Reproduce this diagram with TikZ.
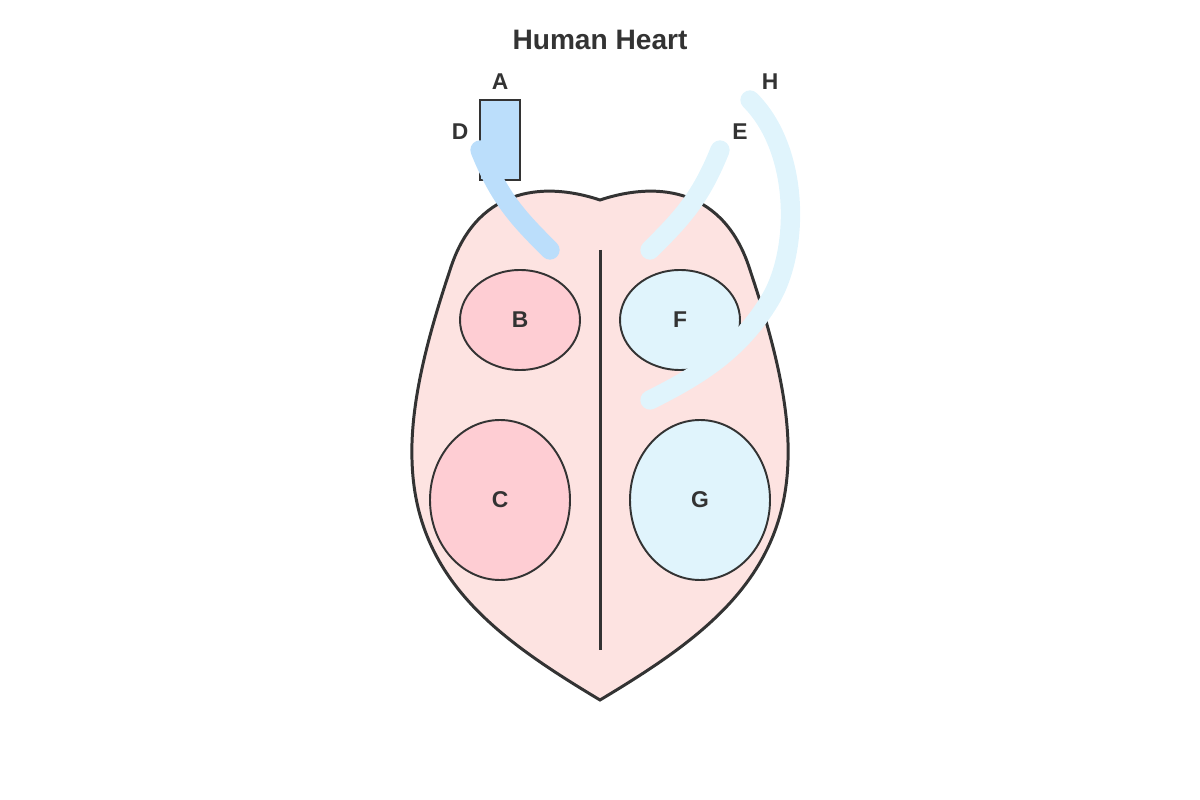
\documentclass[tikz,border=0pt]{standalone}
\usepackage{fontspec}
\setmainfont{Liberation Sans}
\usetikzlibrary{shapes.geometric}
\definecolor{heartfill}{HTML}{FDE3E1}
\definecolor{redch}{HTML}{FECDD3}
\definecolor{bluech}{HTML}{E0F4FC}
\definecolor{aorta}{HTML}{BBDEFB}
\definecolor{ink}{HTML}{333333}
\tikzset{
  chamber/.style={ellipse,draw=ink,line width=1.1pt,font=\bfseries\fontsize{13}{15}\selectfont,text=ink},
  lbl/.style={font=\bfseries\fontsize{13}{15}\selectfont,text=ink},
  vessel/.style={line width=11pt,line cap=round}
}
\begin{document}
\begin{tikzpicture}[x=0.02cm,y=-0.02cm]
  \useasboundingbox (0,0) rectangle (1200,800);
  \node[font=\bfseries\fontsize{16}{19}\selectfont,text=ink] (title) at (600,40) {Human Heart};
  % heart outline
  \draw[ink,line width=1.7pt,fill=heartfill]
    (600,200) .. controls (540,180) and (475,190) .. (450,270)
    .. controls (430,330) and (410,400) .. (412,460)
    .. controls (415,580) and (500,640) .. (600,700)
    .. controls (700,640) and (785,580) .. (788,460)
    .. controls (790,400) and (770,330) .. (750,270)
    .. controls (725,190) and (660,180) .. (600,200) -- cycle;
  \draw[ink,line width=1.7pt] (600,250) -- (600,650);
  % chambers
  \node[chamber,fill=redch,minimum width=120*0.02cm,minimum height=100*0.02cm] (B) at (520,320) {B};
  \node[chamber,fill=redch,minimum width=140*0.02cm,minimum height=160*0.02cm] (C) at (500,500) {C};
  \node[chamber,fill=bluech,minimum width=120*0.02cm,minimum height=100*0.02cm] (F) at (680,320) {F};
  \node[chamber,fill=bluech,minimum width=140*0.02cm,minimum height=160*0.02cm] (G) at (700,500) {G};
  % vessels
  \node[draw=ink,line width=1.1pt,fill=aorta,minimum width=40*0.02cm,minimum height=80*0.02cm,inner sep=0pt] (A) at (500,140) {};
  \node[lbl] (lA) at (500,82) {A};
  \node[lbl] (lD) at (460,132) {D};
  \node[lbl] (lE) at (740,132) {E};
  \node[lbl] (lH) at (770,82) {H};
  \draw[vessel,aorta] (480,150) .. controls (500,200) and (520,220) .. (550,250);
  \draw[vessel,bluech] (720,150) .. controls (700,200) and (680,220) .. (650,250);
  \draw[vessel,bluech] (750,100) .. controls (800,150) and (800,250) .. (770,300)
    .. controls (740,350) and (700,375) .. (650,400);
\end{tikzpicture}
\end{document}
